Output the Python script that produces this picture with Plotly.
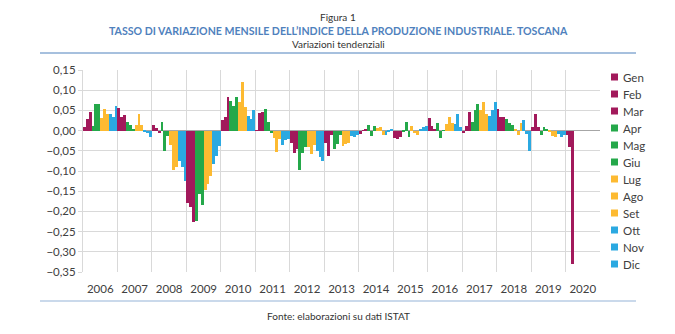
import plotly.graph_objects as go

# Monthly year-on-year change of the industrial production index, Tuscany
years = [str(y) for y in range(2006, 2021)]
months = ["Gen", "Feb", "Mar", "Apr", "Mag", "Giu",
          "Lug", "Ago", "Set", "Ott", "Nov", "Dic"]

v2006 = [0.008, 0.028, 0.045, 0.012, 0.065, 0.065, 0.030, 0.053, 0.040, 0.042, 0.033, 0.060]
v2007 = [0.057, 0.033, 0.038, 0.022, 0.015, 0.002, 0.014, 0.040, 0.013, -0.002, -0.007, -0.015]
v2008 = [0.013, 0.007, -0.005, 0.022, -0.050, -0.013, -0.035, -0.098, -0.090, -0.075, -0.090, -0.125]
v2009 = [-0.178, -0.190, -0.227, -0.223, -0.158, -0.183, -0.148, -0.132, -0.113, -0.082, -0.062, -0.037]
v2010 = [0.026, 0.033, 0.083, 0.074, 0.060, 0.082, 0.070, 0.120, 0.058, 0.037, 0.029, 0.050]
v2011 = [0.001, 0.043, 0.045, 0.054, 0.022, -0.005, -0.018, -0.052, -0.020, -0.036, -0.024, -0.020]
v2012 = [-0.030, -0.055, -0.045, -0.097, -0.055, -0.040, -0.040, -0.058, -0.035, -0.050, -0.065, -0.075]
v2013 = [-0.030, -0.063, -0.012, -0.045, -0.034, -0.010, -0.037, -0.033, -0.030, -0.013, -0.015, -0.012]
v2014 = [-0.008, 0.001, 0.002, 0.014, -0.014, 0.011, 0.006, 0.009, -0.010, -0.012, -0.002, 0.003]
v2015 = [-0.018, -0.022, -0.016, -0.004, 0.022, -0.015, 0.012, -0.006, -0.012, 0.003, 0.008, 0.012]
v2016 = [0.032, 0.012, 0.003, 0.020, -0.018, 0.001, 0.016, 0.033, 0.018, 0.016, 0.040, 0.008]
v2017 = [-0.007, 0.012, 0.045, 0.022, 0.050, 0.066, 0.050, 0.072, 0.040, 0.037, 0.052, 0.072]
v2018 = [0.054, 0.033, 0.033, 0.029, 0.018, 0.013, 0.003, -0.010, 0.020, 0.026, -0.008, -0.050]
v2019 = [0.010, 0.042, 0.010, -0.012, 0.008, 0.005, -0.003, -0.013, -0.015, -0.008, -0.017, -0.010]
v2020 = [-0.012, -0.040, -0.330]

series = [v2006, v2007, v2008, v2009, v2010, v2011, v2012, v2013,
          v2014, v2015, v2016, v2017, v2018, v2019, v2020]

y_ticks = [0.15, 0.10, 0.05, 0.0, -0.05, -0.10, -0.15, -0.20, -0.25, -0.30, -0.35]

MAGENTA = "#A2195B"
GREEN = "#24A84A"
YELLOW = "#FDBA31"
BLUE = "#2BA9E1"
month_colors = [MAGENTA] * 3 + [GREEN] * 3 + [YELLOW] * 3 + [BLUE] * 3

FONT = "Lato"
TEXT = "#404040"

W, H = 675, 334
M_L, M_R, M_T, M_B = 83, 75, 70, 62
plot_w = W - M_L - M_R
plot_h = H - M_T - M_B


def px_x(px):
    """Horizontal pixel -> paper fraction."""
    return (px - M_L) / plot_w


def px_y(py):
    """Vertical pixel (from top) -> paper fraction."""
    return (H - M_B - py) / plot_h


fig = go.Figure()

for m, (name, col) in enumerate(zip(months, month_colors)):
    xs, ys = [], []
    for yi, vals in enumerate(series):
        if m < len(vals):
            xs.append(yi * 12 + m)
            ys.append(vals[m])
    fig.add_trace(go.Bar(
        x=xs, y=ys, width=1, name=name,
        marker=dict(color=col, line=dict(width=0)),
    ))

n_years = len(years)
fig.update_layout(
    width=W, height=H,
    margin=dict(l=M_L, r=M_R, t=M_T, b=M_B),
    paper_bgcolor="white", plot_bgcolor="white",
    barmode="overlay", bargap=0,
    separators=",.",
    font=dict(family=FONT, size=11, color=TEXT),
    showlegend=False,
    xaxis=dict(
        range=[-0.5, n_years * 12 - 0.5],
        tickmode="array",
        tickvals=[i * 12 + 5.5 for i in range(n_years)],
        ticktext=years,
        ticks="", showgrid=False, zeroline=False,
        showline=False, ticklabelstandoff=8,
        tickfont=dict(family=FONT, size=11.5, color=TEXT),
        minor=dict(tickmode="linear", tick0=-0.5, dtick=12,
                   showgrid=True, gridcolor="#D9D9D9", gridwidth=1, ticks=""),
    ),
    yaxis=dict(
        range=[-0.35, 0.15],
        tickmode="array", tickvals=y_ticks, tickformat=".2f",
        showgrid=True, gridcolor="#D9D9D9", gridwidth=1,
        zeroline=True, zerolinecolor="#A6A6A6", zerolinewidth=1,
        showline=True, linecolor="#D9D9D9", linewidth=1,
        ticks="outside", ticklen=4, tickcolor="#D9D9D9",
        tickfont=dict(family=FONT, size=11.5, color=TEXT),
    ),
)

# Month key on the right: colour square + label per month
for i, (name, col) in enumerate(zip(months, month_colors)):
    cy = 77 + 17 * i
    fig.add_shape(type="rect", xref="paper", yref="paper",
                  x0=px_x(611), x1=px_x(618), y0=px_y(cy + 3.5), y1=px_y(cy - 3.5),
                  fillcolor=col, line=dict(width=0))
    fig.add_annotation(text=name, xref="paper", yref="paper",
                       x=px_x(621), y=px_y(cy), xanchor="left", yanchor="middle",
                       showarrow=False, font=dict(family=FONT, size=11.5, color=TEXT))

# Heading, subtitle and source note
heads = [
    ("Figura 1", 17, "#333333", False, 10),
    ("TASSO DI VARIAZIONE MENSILE DELL\u2019INDICE DELLA PRODUZIONE INDUSTRIALE. TOSCANA", 31, "#4F81BD", True, 10.6),
    ("Variazioni tendenziali", 44, "#333333", False, 10),
    ("Fonte: elaborazioni su dati ISTAT", 316, "#333333", False, 10),
]
for txt, py, col, bold, size in heads:
    fig.add_annotation(text=f"<b>{txt}</b>" if bold else txt,
                       xref="paper", yref="paper", x=px_x(338), y=px_y(py),
                       xanchor="center", yanchor="middle", showarrow=False,
                       font=dict(family=FONT, size=size, color=col))

fig.add_shape(type="line", xref="paper", yref="paper", x0=px_x(40), x1=px_x(636),
              y0=px_y(53), y1=px_y(53), line=dict(color="#4F81BD", width=1))
fig.add_shape(type="line", xref="paper", yref="paper", x0=px_x(40), x1=px_x(636),
              y0=px_y(301), y1=px_y(301), line=dict(color="#B8CCE4", width=1.5))

fig.write_html("out.html")
